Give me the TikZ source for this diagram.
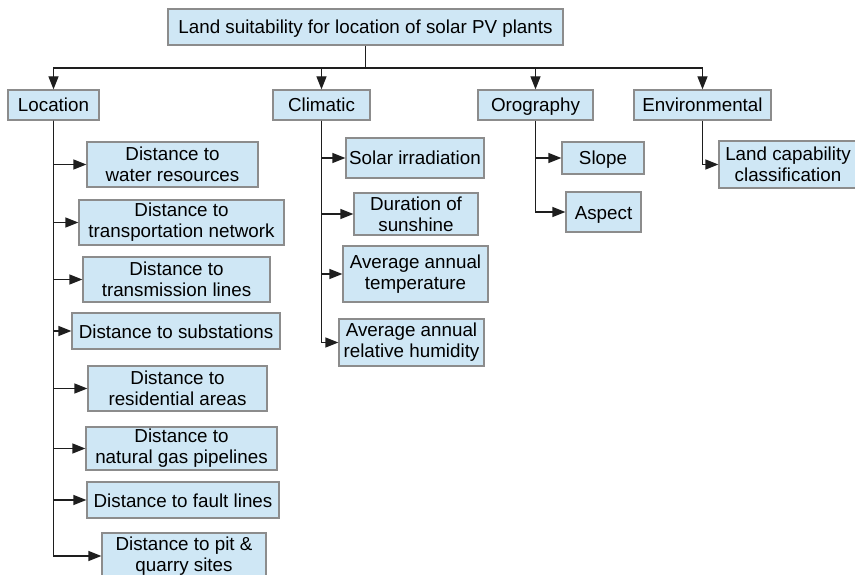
\documentclass[tikz,border=0pt]{standalone}
\usepackage{fontspec}
\setmainfont{Liberation Sans}
\usetikzlibrary{arrows.meta}
\definecolor{boxfill}{RGB}{207,231,245}
\definecolor{boxline}{RGB}{140,140,140}
\definecolor{linecol}{RGB}{30,30,30}
\tikzset{
  box/.style={draw=boxline, fill=boxfill, line width=1.2pt, inner sep=0pt, align=center,
    font=\fontsize{18.8}{21}\selectfont, text=black},
  oneline/.style={text height=14pt, text depth=0pt},
  arr/.style={draw=linecol, line width=1.2pt, -{Triangle[length=13pt,width=10pt]}},
  plain/.style={draw=linecol, line width=1.2pt}
}
\newcommand{\bx}[6]{\node[box, minimum width=#4pt, minimum height=#5pt] (#1) at (#2,#3) {#6};}
\newcommand{\bxs}[6]{\node[box, oneline, minimum width=#4pt, minimum height=#5pt] (#1) at (#2,#3) {#6};}
\begin{document}
\begin{tikzpicture}[x=1pt,y=-1pt]
\useasboundingbox (0,0) rectangle (855,575);
\bxs{root}{365.5}{27}{395}{36}{Land suitability for location of solar PV plants}
\bxs{loc}{53.5}{105}{91}{30}{Location}
\bxs{clim}{321.5}{105}{97}{30}{Climatic}
\bxs{orog}{535.5}{105}{115}{30}{Orography}
\bxs{env}{702.5}{105}{137}{30}{Environmental}
% Location children
\bx{wa}{172.5}{164.5}{171}{45}{Distance to\\water resources}
\bx{wb}{181.5}{222.5}{205}{45}{Distance to\\transportation network}
\bx{wc}{176.5}{279.5}{187}{45}{Distance to\\transmission lines}
\bxs{wd}{176}{331}{208}{36}{Distance to substations}
\bx{we}{177.5}{388.5}{179}{45}{Distance to\\residential areas}
\bx{wf}{181.5}{448.5}{191}{43}{Distance to\\natural gas pipelines}
\bxs{wg}{183}{500}{192}{36}{Distance to fault lines}
\bx{wh}{184}{556}{164}{46}{Distance to pit \&\\quarry sites}
% Climatic children
\bxs{ca}{415}{158}{138}{40}{Solar irradiation}
\bx{cb}{416}{214}{124}{42}{Duration of\\sunshine}
\bx{cc}{415.5}{274}{145}{56}{Average annual\\temperature}
\bx{cd}{411.5}{342.5}{145}{47}{Average annual\\relative humidity}
% Orography children
\bxs{oa}{603}{158}{82}{32}{Slope}
\bxs{ob}{603.5}{212}{75}{40}{Aspect}
% Environmental child
\bx{ea}{788}{164.5}{138}{47}{Land capability\\classification}
% top bus
\coordinate (bus) at (365.5,68);
\draw[plain] (root.south) -- (bus);
\draw[arr] (bus) -| (loc.north);
\draw[arr] (bus) -| (clim.north);
\draw[arr] (bus) -| (orog.north);
\draw[arr] (bus) -| (env.north);
% branches
\foreach \c in {wa,wb,wc,wd,we,wf,wg,wh} \draw[arr] (loc.south) |- (\c.west);
\foreach \c in {ca,cb,cc,cd} \draw[arr] (clim.south) |- (\c.west);
\foreach \c in {oa,ob} \draw[arr] (orog.south) |- (\c.west);
\draw[arr] (env.south) |- (ea.west);
\end{tikzpicture}
\end{document}
